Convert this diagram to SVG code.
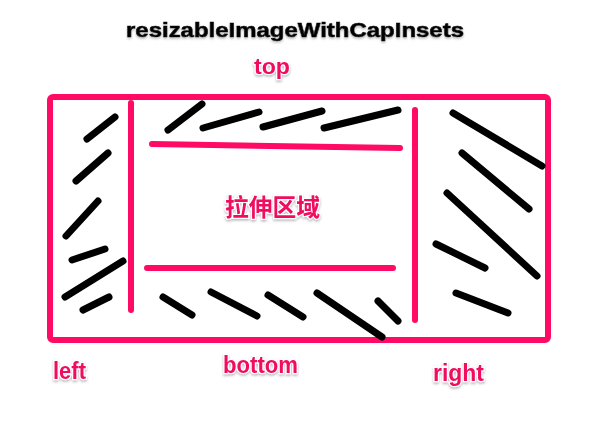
<svg xmlns="http://www.w3.org/2000/svg" width="616" height="423" viewBox="0 0 616 423">
<defs>
<style>
.pk{stroke:#FF0A64;stroke-width:6;stroke-linecap:round;fill:none}
.bk{stroke:#000;stroke-width:7;stroke-linecap:round;fill:none}
.lbl{font-family:"Liberation Sans",Arial,sans-serif;font-weight:bold;fill:#F00A5E;stroke:#fff;stroke-width:2.5;paint-order:stroke;filter:url(#sh)}
.cjk{font-family:"Noto Sans CJK SC","Liberation Sans",sans-serif;font-weight:bold;fill:#F00A5E;stroke:#fff;stroke-width:2.5;paint-order:stroke;filter:url(#sh)}
.ttl{font-family:"Liberation Sans",Arial,sans-serif;font-weight:bold;fill:#000;filter:url(#sh)}
</style>
<filter id="sh" x="-10%" y="-30%" width="120%" height="160%">
<feDropShadow dx="0" dy="1.5" stdDeviation="1" flood-color="#888" flood-opacity="0.6"/>
</filter>
</defs>
<rect width="616" height="423" fill="#fff"/>
<g id="title"><text class="ttl" x="126" y="37" font-size="20" stroke="#000" stroke-width="0.6" textLength="338" lengthAdjust="spacingAndGlyphs">resizableImageWithCapInsets</text></g>
<g id="frame">
<rect class="pk" x="50" y="97" width="498" height="243" rx="3"/>
<line class="pk" x1="131" y1="103" x2="131" y2="310"/>
<line class="pk" x1="415" y1="110" x2="415" y2="320"/>
<line class="pk" x1="152" y1="144" x2="400" y2="148"/>
<line class="pk" x1="147" y1="268" x2="393" y2="268"/>
</g>
<g id="strokes">
<line class="bk" x1="87" y1="139" x2="115" y2="117"/>
<line class="bk" x1="76" y1="181" x2="108" y2="153"/>
<line class="bk" x1="66" y1="236" x2="98" y2="201"/>
<line class="bk" x1="72" y1="260" x2="105" y2="249"/>
<line class="bk" x1="65" y1="297" x2="123" y2="261"/>
<line class="bk" x1="83" y1="310" x2="109" y2="297"/>
<line class="bk" x1="168" y1="130" x2="202" y2="104"/>
<line class="bk" x1="203" y1="128" x2="259" y2="112"/>
<line class="bk" x1="263" y1="127" x2="322" y2="111"/>
<line class="bk" x1="324" y1="128" x2="398" y2="110"/>
<line class="bk" x1="163" y1="297" x2="192" y2="315"/>
<line class="bk" x1="211" y1="292" x2="257" y2="316"/>
<line class="bk" x1="268" y1="295" x2="303" y2="317"/>
<line class="bk" x1="317" y1="293" x2="382" y2="337"/>
<line class="bk" x1="378" y1="301" x2="398" y2="321"/>
<line class="bk" x1="453" y1="113" x2="542" y2="166"/>
<line class="bk" x1="462" y1="153" x2="529" y2="209"/>
<line class="bk" x1="447" y1="193" x2="537" y2="276"/>
<line class="bk" x1="436" y1="244" x2="485" y2="268"/>
<line class="bk" x1="456" y1="293" x2="508" y2="313"/>
</g>
<g id="labels">
<text class="lbl" x="254" y="74" font-size="22" textLength="36" lengthAdjust="spacingAndGlyphs">top</text>
<text class="cjk" x="225" y="216" font-size="24" textLength="95" lengthAdjust="spacingAndGlyphs">拉伸区域</text>
<text class="lbl" x="53" y="379" font-size="23" textLength="33" lengthAdjust="spacingAndGlyphs">left</text>
<text class="lbl" x="223" y="373" font-size="23" textLength="75" lengthAdjust="spacingAndGlyphs">bottom</text>
<text class="lbl" x="433" y="381" font-size="23" textLength="51" lengthAdjust="spacingAndGlyphs">right</text>
</g>
</svg>
